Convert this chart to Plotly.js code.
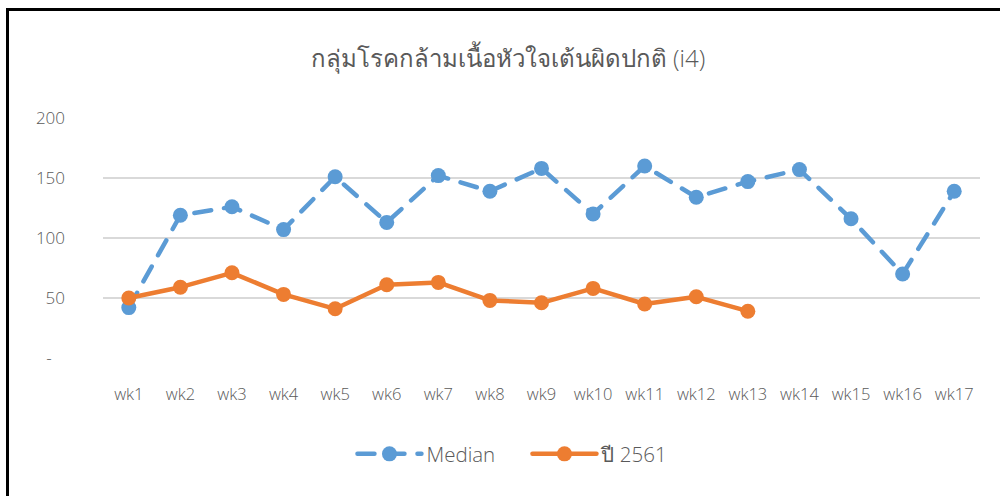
<!DOCTYPE html>
<html>
<head>
<meta charset="utf-8">
<script src="https://cdn.plot.ly/plotly-3.0.1.min.js"></script>
<style>
  html, body { margin: 0; padding: 0; background: #fff; }
  #wrap { position: relative; width: 1000px; height: 496px; overflow: hidden; }
  #chart { position: absolute; left: 0; top: 0; width: 1000px; height: 496px; }
  #frame { position: absolute; left: 6px; top: 8px; width: 1000px; height: 600px;
           border-top: 3px solid #000; border-left: 3px solid #000; pointer-events: none; }
  .scatterlayer .js-line { stroke-linecap: round; stroke-linejoin: round; }
  .legend .js-line { stroke-linecap: round; }
</style>
</head>
<body>
<div id="wrap">
  <div id="chart"></div>
  <div id="frame"></div>
</div>
<script>
const categories = ["wk1","wk2","wk3","wk4","wk5","wk6","wk7","wk8","wk9","wk10","wk11","wk12","wk13","wk14","wk15","wk16","wk17"];
const medianValues = [42, 119, 126, 107, 151, 113, 152, 139, 158, 120, 160, 134, 147, 157, 116, 70, 139];
const year2561Values = [50, 59, 71, 53, 41, 61, 63, 48, 46, 58, 45, 51, 39];
const yTickVals = [0, 50, 100, 150, 200];
const yTickText = ["-\u00a0\u00a0\u00a0", "50", "100", "150", "200"];
const titleText = "กลุ่มโรคกล้ามเนื้อหัวใจเต้นผิดปกติ (i4)";
const seriesNames = ["Median", "ปี 2561"];

const fontFam = "'Open Sans', 'Noto Sans', sans-serif";

const traces = [
  {
    type: "scatter", mode: "lines+markers",
    x: categories, y: medianValues, name: seriesNames[0],
    line: { color: "#5B9BD5", width: 4.5, dash: "17px,13px" },
    marker: { color: "#5B9BD5", size: 15 }
  },
  {
    type: "scatter", mode: "lines+markers",
    x: categories.slice(0, year2561Values.length), y: year2561Values, name: seriesNames[1],
    line: { color: "#ED7D31", width: 4.5 },
    marker: { color: "#ED7D31", size: 15 }
  }
];

const layout = {
  width: 1000, height: 496,
  margin: { l: 103, r: 20, t: 118, b: 138 },
  paper_bgcolor: "#fff", plot_bgcolor: "#fff",
  showlegend: true,
  title: {
    text: titleText,
    font: { family: fontFam, size: 24, color: "#595959", weight: 300 },
    x: 0.508, xref: "container", xanchor: "center",
    y: 52, yref: "container", yanchor: "middle"
  },
  xaxis: {
    type: "category", categoryorder: "array", categoryarray: categories,
    range: [-0.5, categories.length - 0.5],
    showgrid: false, zeroline: false, showline: false,
    ticks: "", ticklabelstandoff: 24,
    tickfont: { family: fontFam, size: 16.5, color: "#595959", weight: 300 },
    fixedrange: true
  },
  yaxis: {
    range: [0, 200], tickvals: yTickVals, ticktext: yTickText,
    showgrid: true, gridcolor: "#D9D9D9", gridwidth: 1.5,
    zeroline: false, showline: false, ticks: "",
    ticklabelstandoff: 37,
    tickfont: { family: fontFam, size: 17, color: "#595959", weight: 300 },
    fixedrange: true
  },
  legend: {
    orientation: "h", x: 0.484, xanchor: "center",
    y: -0.4, yanchor: "middle",
    font: { family: fontFam, size: 20.5, color: "#595959", weight: 300 },
    itemwidth: 64, entrywidth: 96, traceorder: "normal", bgcolor: "rgba(0,0,0,0)"
  }
};

Plotly.newPlot("chart", traces, layout, { displayModeBar: false, staticPlot: true });
</script>
</body>
</html>
